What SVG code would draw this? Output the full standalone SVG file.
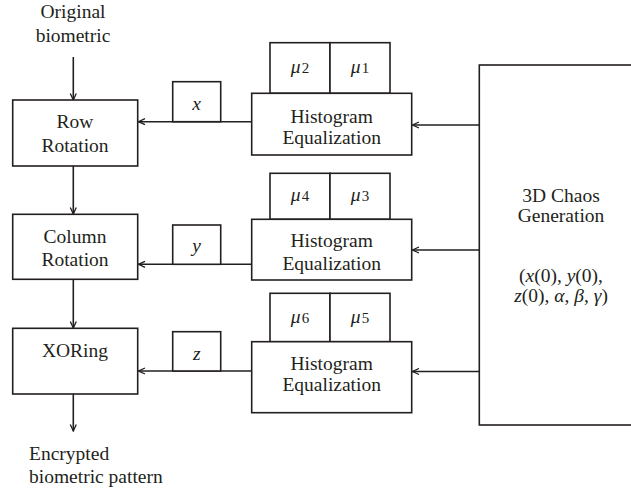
<svg xmlns="http://www.w3.org/2000/svg" width="631" height="490" viewBox="0 0 631 490" font-family="'Liberation Serif', 'DejaVu Serif', serif">
<style>
.box{fill:#fff;stroke:#231f20;stroke-width:1.6}
.ln{fill:none;stroke:#231f20;stroke-width:1.6}
text{font-family:'Liberation Serif','DejaVu Serif',serif;font-size:19.5px;fill:#231f20;text-anchor:middle}
.it{font-style:italic}
.sub{font-size:15px;font-style:normal}
</style>
<defs>
<marker id="ah" viewBox="0 0 8 8" refX="7.5" refY="4" markerWidth="8" markerHeight="8" markerUnits="userSpaceOnUse" orient="auto">
<path d="M1,1 L7.5,4 L1,7" fill="none" stroke="#231f20" stroke-width="1.3"/>
</marker>
</defs>
<rect width="631" height="490" fill="#fff"/>
<g id="connectors">
<line class="ln" x1="73.3" y1="57" x2="73.3" y2="100" marker-end="url(#ah)"/>
<line class="ln" x1="73.3" y1="166" x2="73.3" y2="214" marker-end="url(#ah)"/>
<line class="ln" x1="73.3" y1="279.5" x2="73.3" y2="328" marker-end="url(#ah)"/>
<line class="ln" x1="73.3" y1="394" x2="73.3" y2="431" marker-end="url(#ah)"/>
<line class="ln" x1="251.7" y1="121.7" x2="138.5" y2="121.7" marker-end="url(#ah)"/>
<line class="ln" x1="251.7" y1="264.3" x2="138.5" y2="264.3" marker-end="url(#ah)"/>
<line class="ln" x1="251.7" y1="371" x2="138.5" y2="371" marker-end="url(#ah)"/>
<line class="ln" x1="479.3" y1="125" x2="412.5" y2="125" marker-end="url(#ah)"/>
<line class="ln" x1="479.3" y1="250" x2="412.5" y2="250" marker-end="url(#ah)"/>
<line class="ln" x1="479.3" y1="371.5" x2="412.5" y2="371.5" marker-end="url(#ah)"/>
</g>
<g id="input-label">
<text x="73" y="18">Original</text>
<text x="73" y="42">biometric</text>
</g>
<g id="row-rotation">
<rect class="box" x="12.7" y="100" width="125" height="66"/>
<text x="75" y="128">Row</text>
<text x="75" y="152">Rotation</text>
</g>
<g id="column-rotation">
<rect class="box" x="12.7" y="214.3" width="125" height="65"/>
<text x="75" y="243">Column</text>
<text x="75" y="265.5">Rotation</text>
</g>
<g id="xoring">
<rect class="box" x="12.7" y="328.3" width="125" height="65.7"/>
<text x="75" y="357">XORing</text>
</g>
<g id="output-label">
<text x="29" y="460" style="text-anchor:start">Encrypted</text>
<text x="29" y="483" style="text-anchor:start">biometric pattern</text>
</g>
<g id="x-box">
<rect class="box" x="172.7" y="81.7" width="48" height="40"/>
<text class="it" x="196.7" y="110">x</text>
</g>
<g id="y-box">
<rect class="box" x="172.7" y="225" width="48" height="39.3"/>
<text class="it" x="196.7" y="251.5">y</text>
</g>
<g id="z-box">
<rect class="box" x="172.7" y="331.7" width="48" height="39.3"/>
<text class="it" x="196.7" y="360">z</text>
</g>
<g id="hist-1">
<rect class="box" x="270" y="42.7" width="60" height="50.6"/>
<rect class="box" x="330" y="42.7" width="60" height="50.6"/>
<text x="300" y="73"><tspan class="it">μ</tspan><tspan class="sub" dx="1">2</tspan></text>
<text x="360" y="73"><tspan class="it">μ</tspan><tspan class="sub" dx="1">1</tspan></text>
<rect class="box" x="251.7" y="93.3" width="160" height="61.7"/>
<text x="331.7" y="123">Histogram</text>
<text x="331.7" y="144">Equalization</text>
</g>
<g id="hist-2">
<rect class="box" x="270" y="173.3" width="60" height="46"/>
<rect class="box" x="330" y="173.3" width="60" height="46"/>
<text x="300" y="201"><tspan class="it">μ</tspan><tspan class="sub" dx="1">4</tspan></text>
<text x="360" y="201"><tspan class="it">μ</tspan><tspan class="sub" dx="1">3</tspan></text>
<rect class="box" x="251.7" y="219.3" width="160" height="60.7"/>
<text x="331.7" y="247">Histogram</text>
<text x="331.7" y="270">Equalization</text>
</g>
<g id="hist-3">
<rect class="box" x="270" y="293.3" width="60" height="48.4"/>
<rect class="box" x="330" y="293.3" width="60" height="48.4"/>
<text x="300" y="323"><tspan class="it">μ</tspan><tspan class="sub" dx="1">6</tspan></text>
<text x="360" y="323"><tspan class="it">μ</tspan><tspan class="sub" dx="1">5</tspan></text>
<rect class="box" x="251.7" y="341.7" width="160" height="71"/>
<text x="331.7" y="370">Histogram</text>
<text x="331.7" y="391">Equalization</text>
</g>
<g id="chaos">
<rect class="box" x="479.3" y="65" width="170" height="360"/>
<text x="561" y="202">3D Chaos</text>
<text x="561" y="222">Generation</text>
<text x="561" y="282">(<tspan class="it">x</tspan>(0), <tspan class="it">y</tspan>(0),</text>
<text x="561" y="302"><tspan class="it">z</tspan>(0), <tspan class="it">α</tspan>, <tspan class="it">β</tspan>,  <tspan class="it">γ</tspan>)</text>
</g>
</svg>
